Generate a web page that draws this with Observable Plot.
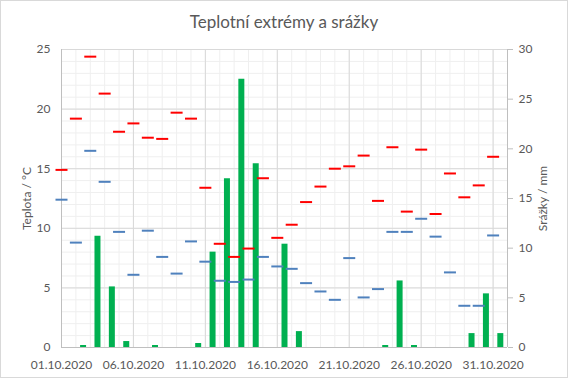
<!DOCTYPE html>
<html><head><meta charset="utf-8">
<script src="https://cdn.jsdelivr.net/npm/d3@7"></script>
<script src="https://cdn.jsdelivr.net/npm/@observablehq/plot@0.6"></script>
<style>
html,body{margin:0;padding:0;background:#fff;}
#chart{position:relative;width:568px;height:378px;overflow:hidden;font-family:Lato,"Open Sans",sans-serif;}
#title{height:40px;line-height:44px;text-align:center;font-size:17px;color:#595959;}
#border{position:absolute;left:0;top:0;width:568px;height:378px;box-sizing:border-box;border:1px solid #d9d9d9;pointer-events:none;}
svg{display:block;}
</style>
</head><body>
<div id="chart"><div id="title">Teplotní extrémy a srážky</div><div id="plot"></div><div id="border"></div></div>
<script>
const dates = ["2020-10-01","2020-10-02","2020-10-03","2020-10-04","2020-10-05","2020-10-06","2020-10-07","2020-10-08","2020-10-09","2020-10-10","2020-10-11","2020-10-12","2020-10-13","2020-10-14","2020-10-15","2020-10-16","2020-10-17","2020-10-18","2020-10-19","2020-10-20","2020-10-21","2020-10-22","2020-10-23","2020-10-24","2020-10-25","2020-10-26","2020-10-27","2020-10-28","2020-10-29","2020-10-30","2020-10-31"];
const tMax = [14.9,19.2,24.4,21.3,18.1,18.8,17.6,17.5,19.7,19.2,13.4,8.7,7.6,8.3,14.2,9.2,10.3,12.2,13.5,15.0,15.2,16.1,12.3,16.8,11.4,16.6,11.2,14.6,12.6,13.6,16.0];
const tMin = [12.4,8.8,16.5,13.9,9.7,6.1,9.8,7.6,6.2,8.9,7.2,5.6,5.5,5.7,7.6,6.8,6.6,5.4,4.7,4.0,7.5,4.2,4.9,9.7,9.7,10.8,9.3,6.3,3.5,3.5,9.4];
const precip = [0,0.2,11.2,6.1,0.6,0,0.2,0,0,0.4,9.6,17.0,27.0,18.5,0,10.4,1.6,0,0,0,0,0,0.2,6.7,0.2,0,0,0,1.4,5.4,1.4];
const xTickLabels = ["01.10.2020","06.10.2020","11.10.2020","16.10.2020","21.10.2020","26.10.2020","31.10.2020"];
const tempTicks = [0,5,10,15,20,25];
const precipTicks = [0,5,10,15,20,25,30];
const xDomain = ["2020-10-01","2020-11-01"];

const parse = d3.utcParse("%Y-%m-%d");
const parseLabel = d3.utcParse("%d.%m.%Y");
const data = dates.map((d,i) => ({date: parse(d), max: tMax[i], min: tMin[i], mm: precip[i]}));
const ratio = 25/30; // precip axis 0–30 mapped onto temperature axis 0–25
const HALF_DAY = 12*3600*1000;
const dayTicks = d3.utcDay.range(parse(xDomain[0]), d3.utcDay.offset(parse(xDomain[1]), 1));
const majorX = xTickLabels.map(parseLabel);
const minorY = d3.range(0, 26);
const dash = {draw(ctx){ ctx.moveTo(-6,-1); ctx.lineTo(6,-1); ctx.lineTo(6,1); ctx.lineTo(-6,1); ctx.closePath(); }};

const chart = Plot.plot({
  width: 568, height: 338,
  marginTop: 9, marginBottom: 31, marginLeft: 61, marginRight: 61,
  x: {type: "utc", domain: xDomain.map(parse)},
  y: {domain: [0, 25]},
  style: {fontFamily: "Lato, 'Open Sans', sans-serif", fontSize: "12px", color: "#595959", background: "transparent"},
  marks: [
    Plot.ruleX(dayTicks, {stroke: "#efefef"}),
    Plot.ruleY(minorY, {stroke: "#efefef"}),
    Plot.ruleX(majorX, {stroke: "#d9d9d9"}),
    Plot.ruleY(tempTicks, {stroke: "#d9d9d9"}),
    Plot.ruleX(xDomain.map(parse), {stroke: "#bfbfbf"}),
    Plot.ruleY([0], {stroke: "#bfbfbf"}),
    Plot.ruleX(data.filter(d => d.mm > 0), {x: d => new Date(+d.date + HALF_DAY), y1: 0, y2: d => d.mm*ratio, stroke: "#00b050", strokeWidth: 6}),
    Plot.dot(data, {x: "date", y: "max", symbol: dash, fill: "#ff0000", stroke: "none"}),
    Plot.dot(data, {x: "date", y: "min", symbol: dash, fill: "#4f81bd", stroke: "none"}),
    Plot.axisX(majorX, {tickSize: 0, tickPadding: 13, tickFormat: d3.utcFormat("%d.%m.%Y"), label: null}),
    Plot.axisY(tempTicks, {anchor: "left", tickSize: 0, tickPadding: 11, label: null}),
    Plot.axisY(precipTicks.map(v => v*ratio), {anchor: "right", tickSize: 5, tickPadding: 6, stroke: "#bfbfbf", tickFormat: d => Math.round(d/ratio), label: null}),
    Plot.text(["Teplota / °C"], {frameAnchor: "left", dx: -34, rotate: -90, textAnchor: "middle", fill: "#595959", fontSize: 12}),
    Plot.text(["Srážky / mm"], {frameAnchor: "right", dx: 36, rotate: -90, textAnchor: "middle", fill: "#595959", fontSize: 12})
  ]
});
document.getElementById("plot").appendChild(chart);
</script>
</body></html>
